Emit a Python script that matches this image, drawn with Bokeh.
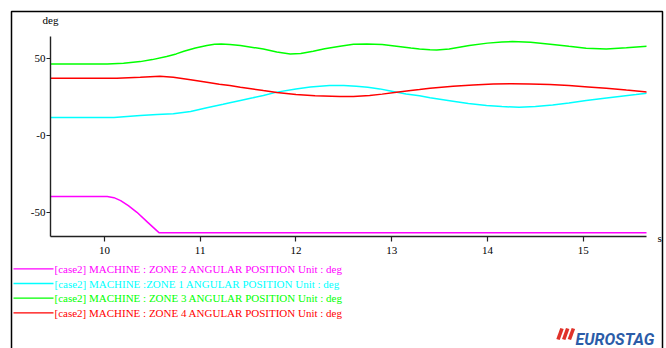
from bokeh.plotting import figure
from bokeh.models import Range1d, FixedTicker
from bokeh.core.properties import value
from bokeh.embed import file_html
from bokeh.resources import INLINE

# ---- data ----
t_green = [9.44, 10.03, 10.2, 10.375, 10.5, 10.65, 10.75, 10.83, 10.95, 11.07, 11.15, 11.22, 11.31, 11.42,
           11.55, 11.66, 11.8, 11.94, 12.05, 12.18, 12.3, 12.46, 12.6, 12.74, 12.9, 13.05, 13.2, 13.29,
           13.4, 13.47, 13.6, 13.81, 14.0, 14.15, 14.26, 14.45, 14.68, 14.85, 15.03, 15.24, 15.45, 15.67]
v_green = [46.5, 46.5, 47.0, 48.0, 49.3, 51.3, 53.0, 54.7, 56.8, 58.4, 59.2, 59.5, 59.1, 58.4,
           57.2, 56.2, 54.3, 53.0, 53.2, 54.7, 56.3, 58.0, 59.2, 59.5, 59.1, 58.0, 56.8, 56.2,
           55.7, 55.6, 56.2, 58.4, 60.0, 60.8, 61.0, 60.5, 59.1, 57.9, 56.7, 56.2, 57.0, 58.0]

t_red = [9.44, 10.13, 10.375, 10.58, 10.72, 10.9, 11.07, 11.2, 11.31, 11.42, 11.55, 11.66, 11.8, 12.0,
         12.2, 12.46, 12.6, 12.77, 12.9, 13.05, 13.2, 13.29, 13.4, 13.64, 13.85, 14.06, 14.25, 14.44,
         14.65, 14.85, 15.05, 15.24, 15.45, 15.67]
v_red = [37.2, 37.2, 37.8, 38.5, 37.8, 36.2, 34.6, 33.3, 32.5, 31.4, 30.2, 29.2, 28.0, 26.6,
         25.8, 25.3, 25.4, 26.0, 26.9, 28.1, 29.3, 29.9, 30.7, 32.0, 32.9, 33.5, 33.6, 33.5,
         33.1, 32.5, 31.6, 30.7, 29.5, 28.3]

t_cyan = [9.44, 10.1, 10.375, 10.55, 10.72, 10.9, 11.07, 11.24, 11.31, 11.42, 11.55, 11.66, 11.8, 12.0,
          12.15, 12.35, 12.5, 12.63, 12.75, 12.875, 13.0, 13.15, 13.29, 13.4, 13.64, 13.8, 13.99, 14.15,
          14.33, 14.5, 14.68, 14.85, 15.03, 15.2, 15.375, 15.55, 15.67]
v_cyan = [11.7, 11.7, 13.0, 13.6, 14.1, 15.6, 18.0, 20.3, 21.3, 22.8, 24.5, 26.0, 28.2, 30.3,
          31.6, 32.5, 32.5, 32.0, 31.3, 30.3, 28.8, 27.0, 25.8, 24.5, 22.3, 20.8, 19.5, 18.8,
          18.4, 18.8, 19.9, 21.2, 22.7, 24.0, 25.3, 26.6, 27.5]

t_magenta = [9.44, 10.03, 10.1, 10.17, 10.25, 10.34, 10.45, 10.57, 15.67]
v_magenta = [-39.6, -39.6, -40.3, -42.2, -45.5, -49.8, -56.2, -63.0, -63.0]

x_ticks = [10, 11, 12, 13, 14, 15]
y_ticks = [-50, 0, 50]
y_tick_labels = {-50: "-50", 0: "-0", 50: "50"}

labels = [
    "[case2]   MACHINE : ZONE 2 ANGULAR POSITION  Unit : deg",
    "[case2]   MACHINE :ZONE 1 ANGULAR POSITION  Unit : deg",
    "[case2]   MACHINE : ZONE 3 ANGULAR POSITION  Unit : deg",
    "[case2]   MACHINE : ZONE 4  ANGULAR POSITION  Unit : deg",
]
colors = ["#ff00ff", "#00ffff", "#00ff00", "#ff0000"]

FONT = "Liberation Serif"
W, H = 666, 348
FL, FR, FT, FB = 50, 646, 36, 236   # plot frame in canvas pixels

p = figure(width=W, height=H, output_backend="svg", toolbar_location=None,
           x_range=Range1d(9.4375, 15.66), y_range=Range1d(-65.5, 64.3),
           min_border_left=FL, min_border_right=W - FR, min_border_top=FT, min_border_bottom=H - FB)
p.outline_line_color = None
p.grid.visible = False
p.background_fill_color = "white"
p.border_fill_color = "white"
# pixel-space ranges for the decorations around the frame
p.extra_x_ranges = {"px": Range1d(FL, FR)}
p.extra_y_ranges = {"py": Range1d(FB, FT)}

for ax in (p.xaxis[0], p.yaxis[0]):
    ax.axis_line_color = "#222222"
    ax.axis_line_width = 1.4
    ax.major_tick_line_color = "#222222"
    ax.major_tick_line_width = 1.2
    ax.minor_tick_line_color = None
    ax.major_tick_in = 0
    ax.major_label_text_font = FONT
    ax.major_label_text_font_size = "11px"
    ax.major_label_text_color = "black"

p.xaxis.ticker = FixedTicker(ticks=x_ticks)
p.xaxis.major_tick_out = 5
p.xaxis.major_label_standoff = 5
p.yaxis.ticker = FixedTicker(ticks=y_ticks)
p.yaxis.major_label_overrides = y_tick_labels
p.yaxis.major_tick_out = 4
p.yaxis.major_label_standoff = 1

series = [(t_magenta, v_magenta), (t_cyan, v_cyan), (t_green, v_green), (t_red, v_red)]
for (t, v), c in zip(series, colors):
    p.line(t, v, line_color=c, line_width=1.5)

deco = dict(x_range_name="px", y_range_name="py", level="annotation")

# legend (manual, one colour per entry)
for i, (lab, c) in enumerate(zip(labels, colors)):
    yy = 268.3 + 14.7 * i
    p.segment(x0=[13], y0=[yy], x1=[53], y1=[yy], line_color=c, line_width=1.3, **deco)
    p.text(x=[54], y=[yy], text=[lab], text_color=c, text_font=value(FONT),
           text_font_size=value("11px"), text_baseline="middle", text_align="left", **deco)

# axis units
p.text(x=[50], y=[19], text=["deg"], text_font=value(FONT), text_font_size=value("11px"),
       text_align="center", text_baseline="middle", text_color="black", **deco)
p.text(x=[657], y=[237], text=["s"], text_font=value(FONT), text_font_size=value("11px"),
       text_align="left", text_baseline="middle", text_color="black", **deco)

# outer frame
p.line(x=[11, 11, 662, 662], y=[352, 11, 11, 352], line_color="black", line_width=1.5, **deco)

# logo
p.segment(x0=[557.5, 563.2, 568.9], y0=[339, 339, 339], x1=[561.5, 567.2, 572.9], y1=[328, 328, 328],
          line_color="#e0322a", line_width=3.6, line_cap="butt", **deco)
p.text(x=[575], y=[339], text=["EUROSTAG"], text_font=value("Roboto"), text_font_size=value("16px"),
       text_font_style="bold italic", text_align="left", text_baseline="alphabetic",
       text_color="#2b5ca8", **deco)

open("out.html", "w").write(file_html(p, INLINE))
